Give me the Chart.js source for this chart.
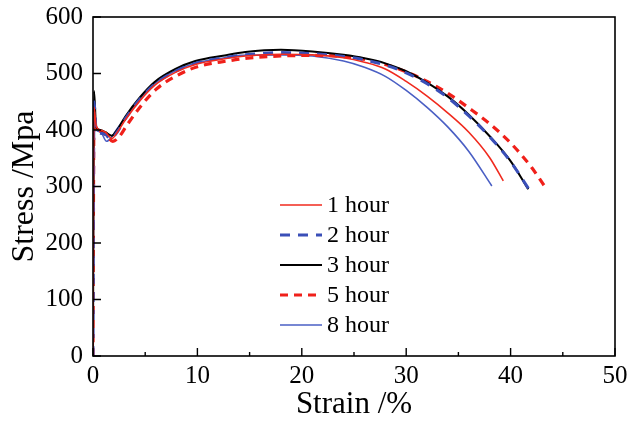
<!DOCTYPE html>
<html>
<head>
<meta charset="utf-8">
<script src="https://cdn.jsdelivr.net/npm/chart.js@4.4.1/dist/chart.umd.min.js"></script>
<style>
  html, body { margin: 0; padding: 0; background: #fff; }
  #wrap { width: 633px; height: 424px; }
</style>
</head>
<body>
<div id="wrap"><canvas id="chart" width="633" height="424"></canvas></div>
<script>
// tick labels
const xTickLabels = [0, 10, 20, 30, 40, 50];
const yTickLabels = [0, 100, 200, 300, 400, 500, 600];

// 1 hour
const strain1h = [0, 0.05, 0.1, 0.3, 0.7, 1.2, 1.8, 2.3, 3.1, 4.5, 5.9, 7.9, 9.8, 12.6, 14.6, 18, 21, 24, 26, 28, 30, 32, 34, 36, 38, 39.3];
const stress1h = [0, 300, 440, 408, 400, 396, 385, 395, 418, 452, 479, 502, 516, 526, 531, 534, 533, 528, 520, 508, 486, 460, 430, 396, 351, 310];

// 2 hour
const strain2h = [0, 0.05, 0.1, 0.3, 0.7, 1.2, 1.7, 2.3, 3.1, 4.5, 5.9, 7.9, 9.8, 12.6, 14.6, 18, 21, 24, 26, 28, 30, 32, 34, 36, 38, 40, 41.8];
const stress2h = [0, 300, 450, 400, 394, 392, 384, 396, 420, 455, 481, 504, 518, 528, 533, 537, 535, 530, 524, 515, 501, 482, 457, 425, 388, 344, 294];

// 3 hour
const strain3h = [0, 0.05, 0.1, 0.3, 0.7, 1.2, 1.8, 2.3, 3.1, 4.5, 5.9, 7.9, 9.8, 12.6, 14.6, 18, 21, 24, 26, 28, 30, 32, 34, 36, 38, 40, 41.7];
const stress3h = [0, 300, 469, 405, 400, 396, 390, 400, 424, 458, 485, 508, 522, 532, 538, 542, 539, 533, 527, 518, 504, 484, 459, 427, 389, 345, 295];

// 5 hour
const strain5h = [0, 0.05, 0.1, 0.3, 0.7, 1.2, 1.9, 2.5, 3.3, 4.7, 6.1, 8.1, 10, 12.8, 14.8, 18, 21, 24, 26, 28, 30, 32, 34, 36, 38, 40, 42, 43.2];
const stress5h = [0, 300, 430, 395, 398, 392, 380, 388, 410, 445, 473, 497, 512, 522, 527, 531, 532, 530, 525, 516, 503, 486, 465, 439, 411, 377, 334, 302];

// 8 hour
const strain8h = [0, 0.05, 0.1, 0.3, 0.7, 1.3, 1.8, 2.3, 3.1, 4.5, 5.9, 7.9, 9.8, 12.6, 14.1, 18, 21, 24, 26, 28, 30, 32, 34, 36, 38.2];
const stress8h = [0, 300, 455, 400, 397, 380, 388, 402, 422, 455, 482, 505, 518, 528, 532, 533, 531, 522, 511, 495, 470, 440, 405, 362, 301];

const toPoints = (xs, ys) => xs.map((x, i) => ({ x: x, y: ys[i] }));

const serif = "'Liberation Serif', 'Times New Roman', serif";

// inward ticks + frame
const frameTicks = {
  id: 'frameTicks',
  afterDraw(c) {
    const ctx = c.ctx;
    const a = c.chartArea;
    const xs = c.scales.x, ys = c.scales.y;
    ctx.save();
    ctx.strokeStyle = '#000';
    ctx.lineWidth = 1.6;
    ctx.strokeRect(a.left, a.top, a.right - a.left, a.bottom - a.top);
    ctx.lineWidth = 1.4;
    ctx.beginPath();
    xs.ticks.forEach(t => {
      const px = xs.getPixelForValue(t.value);
      const len = xTickLabels.includes(t.value) ? 8 : 4;
      ctx.moveTo(px, a.bottom);
      ctx.lineTo(px, a.bottom - len);
    });
    ys.ticks.forEach(t => {
      const py = ys.getPixelForValue(t.value);
      const len = yTickLabels.includes(t.value) ? 8 : 4;
      ctx.moveTo(a.left, py);
      ctx.lineTo(a.left + len, py);
    });
    ctx.stroke();
    ctx.restore();
  }
};

// legend inside the plot
const innerLegend = {
  id: 'innerLegend',
  afterDraw(c) {
    const ctx = c.ctx;
    const a = c.chartArea;
    const x0 = a.left + 187;
    const y0 = a.top + 188;
    ctx.save();
    ctx.font = '24px ' + serif;
    ctx.textBaseline = 'middle';
    ctx.fillStyle = '#000';
    c.data.datasets.forEach((ds, i) => {
      const y = y0 + i * 30;
      ctx.strokeStyle = ds.borderColor;
      ctx.lineWidth = ds.borderWidth;
      ctx.setLineDash(ds.borderDash || []);
      ctx.beginPath();
      ctx.moveTo(x0, y);
      ctx.lineTo(x0 + 42, y);
      ctx.stroke();
      ctx.setLineDash([]);
      ctx.fillText(ds.label, x0 + 47, y + 1);
    });
    ctx.restore();
  }
};

const line = { tension: 0.4, cubicInterpolationMode: 'monotone' };

new Chart(document.querySelector('#chart').getContext('2d'), {
  type: 'line',
  data: {
    datasets: [
      { label: '1 hour', data: toPoints(strain1h, stress1h), borderColor: '#f02a1e', borderWidth: 1.6, ...line },
      { label: '2 hour', data: toPoints(strain2h, stress2h), borderColor: '#3a4fb8', borderWidth: 3, borderDash: [10, 8], ...line },
      { label: '3 hour', data: toPoints(strain3h, stress3h), borderColor: '#000000', borderWidth: 2, ...line },
      { label: '5 hour', data: toPoints(strain5h, stress5h), borderColor: '#f0201a', borderWidth: 3.2, borderDash: [8, 6], ...line },
      { label: '8 hour', data: toPoints(strain8h, stress8h), borderColor: '#4a5fc4', borderWidth: 1.6, ...line }
    ]
  },
  options: {
    responsive: false,
    animation: false,
    elements: { point: { radius: 0 } },
    layout: { padding: { top: 17, right: 18, left: 0, bottom: 0 } },
    plugins: { legend: { display: false }, tooltip: { enabled: false } },
    scales: {
      x: {
        type: 'linear',
        min: 0, max: 50,
        grid: { display: false, drawTicks: false },
        border: { display: false },
        ticks: {
          stepSize: 5,
          padding: 5,
          color: '#000',
          font: { family: serif, size: 25 },
          maxRotation: 0,
          callback: v => xTickLabels.includes(v) ? v : ''
        },
        title: { display: true, text: 'Strain /%', color: '#000', font: { family: serif, size: 31 }, padding: { top: 0, bottom: 1 } },
        afterFit: s => { s.height = 68; s.paddingLeft = 0; s.paddingRight = 0; }
      },
      y: {
        min: 0, max: 600,
        grid: { display: false, drawTicks: false },
        border: { display: false },
        ticks: {
          stepSize: 50,
          padding: 10,
          color: '#000',
          font: { family: serif, size: 25 },
          callback: v => yTickLabels.includes(v) ? v : ''
        },
        title: { display: true, text: 'Stress /Mpa', color: '#000', font: { family: serif, size: 32 }, padding: { top: 5, bottom: 0 } },
        afterFit: s => { s.width = 93; s.paddingTop = 0; s.paddingBottom = 0; }
      }
    }
  },
  plugins: [frameTicks, innerLegend]
});
</script>
</body>
</html>
